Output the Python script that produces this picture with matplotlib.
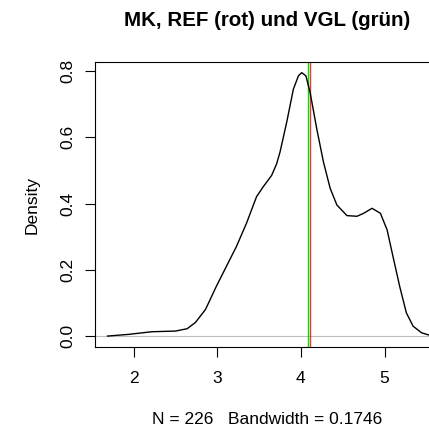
import numpy as np
import matplotlib.pyplot as plt

plt.rcParams['font.family'] = ['Liberation Sans', 'DejaVu Sans']

# density estimate, read point by point
dens_x = [1.69, 1.94, 2.22, 2.50, 2.64, 2.74, 2.86, 2.99, 3.11, 3.23,
          3.35, 3.47, 3.55, 3.65, 3.71, 3.75, 3.83, 3.91, 3.97, 4.01,
          4.06, 4.11, 4.19, 4.27, 4.35, 4.43, 4.55, 4.67, 4.75, 4.85,
          4.95, 5.03, 5.10, 5.18, 5.26, 5.34, 5.44, 5.53]
dens_y = [0.001, 0.006, 0.014, 0.016, 0.023, 0.042, 0.081, 0.151, 0.211, 0.271,
          0.341, 0.421, 0.451, 0.485, 0.520, 0.555, 0.645, 0.745, 0.785, 0.795,
          0.785, 0.735, 0.625, 0.525, 0.446, 0.396, 0.364, 0.362, 0.371, 0.386,
          0.371, 0.321, 0.241, 0.151, 0.071, 0.031, 0.011, 0.004]
ref_val = 4.112   # REF (rot)
vgl_val = 4.088   # VGL (gruen)
n_obs = 226
bandwidth = 0.1746

fig = plt.figure(figsize=(4.29, 4.29), dpi=100)
ax = fig.add_axes([95 / 429, 1 - 347 / 429, 344 / 429, 285 / 429])

ax.axhline(0, color='#BEBEBE', lw=0.8, zorder=1)
ax.plot(dens_x, dens_y, color='black', lw=1.0, zorder=3)
ax.axvline(ref_val, color='#FF0000', lw=1.0, alpha=0.8, zorder=2)
ax.axvline(vgl_val, color='#00E000', lw=1.0, zorder=2)

ax.set_xlim(1.54, 5.65)
ax.set_ylim(-0.032, 0.827)
ax.set_xticks([2, 3, 4, 5])
ax.set_yticks([0.0, 0.2, 0.4, 0.6, 0.8])
ax.set_yticklabels(['0.0', '0.2', '0.4', '0.6', '0.8'], rotation=90, va='center')
ax.tick_params(length=7.2, width=0.8, labelsize=12.5, pad=10)
ax.tick_params(axis='y', pad=7)
for s in ax.spines.values():
    s.set_linewidth(0.8)

fig.text(267 / 429, 1 - 20 / 429, 'MK, REF (rot) und VGL (grün)',
         ha='center', va='center', fontsize=14.8, fontweight='bold')
fig.text(267 / 429, 1 - 419 / 429, f'N = {n_obs}   Bandwidth = {bandwidth}',
         ha='center', va='center', fontsize=12.5)
fig.text(32 / 429, 1 - 205 / 429, 'Density', rotation=90,
         ha='center', va='center', fontsize=12.5)

fig.savefig('out.png', dpi=100)
